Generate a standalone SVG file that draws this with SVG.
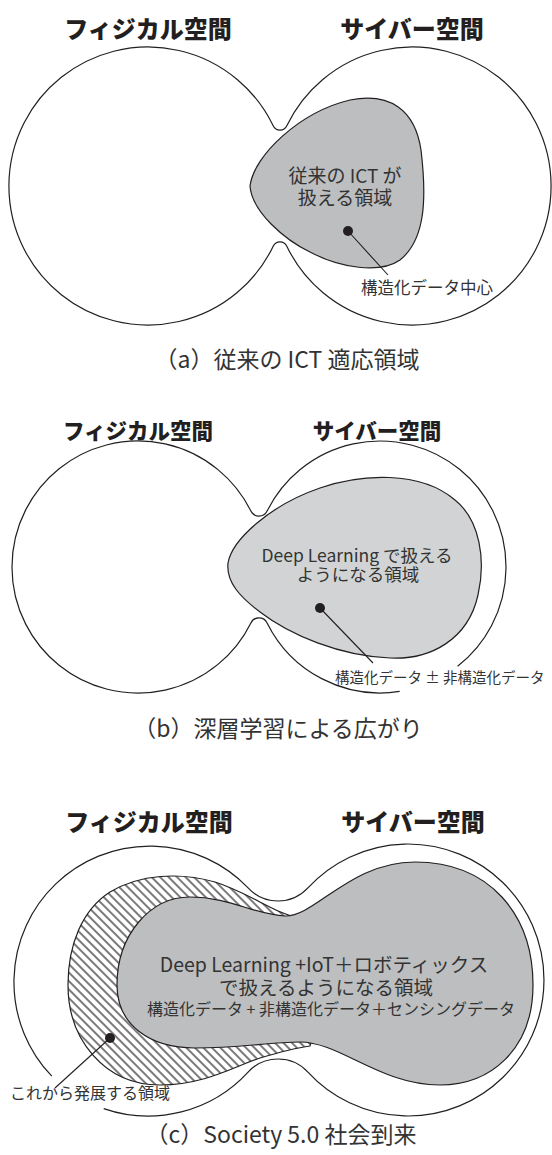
<svg xmlns="http://www.w3.org/2000/svg" width="552" height="1155" viewBox="0 0 552 1155">
<style>
.ol{fill:none;stroke:#231f20;stroke-width:1.2}
.g1{fill:#bcbec0;stroke:#231f20;stroke-width:1.2}
.g2{fill:#d1d3d4;stroke:#231f20;stroke-width:1.2}
.ld{fill:none;stroke:#231f20;stroke-width:1.1}
.dot{fill:#231f20}
.t{font-family:"Noto Sans CJK JP","Noto Sans",sans-serif;fill:#333;text-anchor:middle}
.ti{font-family:"Noto Sans CJK JP","Noto Sans",sans-serif;fill:#231f20;font-weight:900;text-anchor:middle}
.lb{font-family:"Noto Sans CJK JP","Noto Sans",sans-serif;fill:#333}
</style>
<defs>
<pattern id="hatch" width="6" height="6" patternUnits="userSpaceOnUse" patternTransform="rotate(45)">
<rect width="6" height="6" fill="#fff"/>
<line x1="0" y1="3" x2="6" y2="3" stroke="#231f20" stroke-width="1.2"/>
</pattern>
</defs>
<rect width="552" height="1155" fill="#fff"/>

<!-- Panel (a) -->
<g id="panel-a">
<g id="a-titles">
<text class="ti" x="148" y="38" font-size="24">フィジカル空間</text>
<text class="ti" x="412" y="38" font-size="24">サイバー空間</text>
</g>
<g id="a-spaces">
<path class="ol" d="M 273.2,125.8 A 7.5 7.5 0 0 0 286.8,125.8 A 139 139 0 1 1 286.8,246.2 A 7.5 7.5 0 0 0 273.2,246.2 A 139 139 0 1 1 273.2,125.8 Z"/>
</g>
<g id="a-ict">
<path class="g1" d="M 250,186 C 254,155 300,112 350,100 C 390,92 415,110 421,150 C 427,200 425,240 400,260 C 380,274 340,268 310,252 C 285,240 252,212 250,186 Z"/>
<text class="t" font-size="19"><tspan x="345" y="183">従来の ICT が</tspan><tspan x="345" y="205">扱える領域</tspan></text>
</g>
<g id="a-connectors">
<line class="ld" x1="348" y1="231" x2="388" y2="275"/>
<circle class="dot" cx="348" cy="231" r="5"/>
</g>
<text class="lb" x="361" y="294" font-size="16.5">構造化データ中心</text>
<text class="t" x="287" y="368" font-size="23">（a）従来の ICT 適応領域</text>
</g>

<!-- Panel (b) -->
<g id="panel-b">
<g id="b-titles">
<text class="ti" x="138" y="439" font-size="21.5">フィジカル空間</text>
<text class="ti" x="377" y="439" font-size="21.5">サイバー空間</text>
</g>
<g id="b-spaces">
<path class="ol" d="M 399.7,691.4 A 126 126 0 0 1 267.1,622.9 A 9 9 0 0 0 250.9,622.9 A 126 126 0 1 1 250.9,511.1 A 9 9 0 0 0 267.1,511.1 A 126 126 0 1 1 457.6,666.3"/>
</g>
<g id="b-dl">
<path class="g2" d="M 228,563 C 232,540 270,505 320,488 C 360,474 420,470 455,500 C 480,520 486,560 478,595 C 468,640 430,660 390,658 C 340,656 290,635 260,612 C 240,597 226,582 228,563 Z"/>
<text class="t" font-size="17.5"><tspan x="357" y="562">Deep Learning で扱える</tspan><tspan x="358" y="581">ようになる領域</tspan></text>
</g>
<g id="b-connectors">
<line class="ld" x1="320" y1="608" x2="373" y2="663"/>
<circle class="dot" cx="320" cy="608" r="5"/>
</g>
<text class="lb" x="335" y="683" font-size="14.5">構造化データ ± 非構造化データ</text>
<text class="t" x="278" y="737" font-size="23">（b）深層学習による広がり</text>
</g>

<!-- Panel (c) -->
<g id="panel-c">
<g id="c-titles">
<text class="ti" x="149" y="831" font-size="24">フィジカル空間</text>
<text class="ti" x="413" y="831" font-size="24">サイバー空間</text>
</g>
<g id="c-spaces">
<path class="ol" d="M 51.8,1076.2 A 136 136 0 1 1 248.1,887.9 A 40.7 40.7 0 0 0 307.9,887.9 A 136 136 0 1 1 307.9,1072.1 A 40.7 40.7 0 0 0 248.1,1072.1 A 136 136 0 0 1 103.7,1108.6"/>
</g>
<g id="c-future">
<path fill="url(#hatch)" stroke="#231f20" stroke-width="1.2" d="M 300,918 C 275,914 250,893 215,882 C 180,872 140,874 110,892 C 82,910 68,945 68,985 C 68,1040 105,1085 160,1085 C 205,1085 235,1066 260,1058 C 280,1052 295,1048 310,1046 L 330,980 Z"/>
</g>
<g id="c-dl-iot">
<path class="g1" d="M 117,985 C 117,935 150,897 190,897 C 230,897 255,915 285,916 C 315,917 350,862 415,862 C 490,862 533,915 533,985 C 533,1050 490,1085 440,1085 C 380,1085 340,1042 300,1042 C 270,1042 240,1048 195,1048 C 150,1048 117,1025 117,985 Z"/>
<text class="t"><tspan x="324" y="972" font-size="19.5">Deep Learning +IoT＋ロボティックス</tspan><tspan x="326" y="995" font-size="19.5">で扱えるようになる領域</tspan><tspan x="331" y="1015" font-size="16">構造化データ + 非構造化データ＋センシングデータ</tspan></text>
</g>
<g id="c-connectors">
<line class="ld" x1="110" y1="1038" x2="55" y2="1088"/>
<circle class="dot" cx="110" cy="1038" r="5"/>
</g>
<text class="lb" x="10" y="1099" font-size="16">これから発展する領域</text>
<text class="t" x="281" y="1143" font-size="23">（c）Society 5.0 社会到来</text>
</g>
</svg>
